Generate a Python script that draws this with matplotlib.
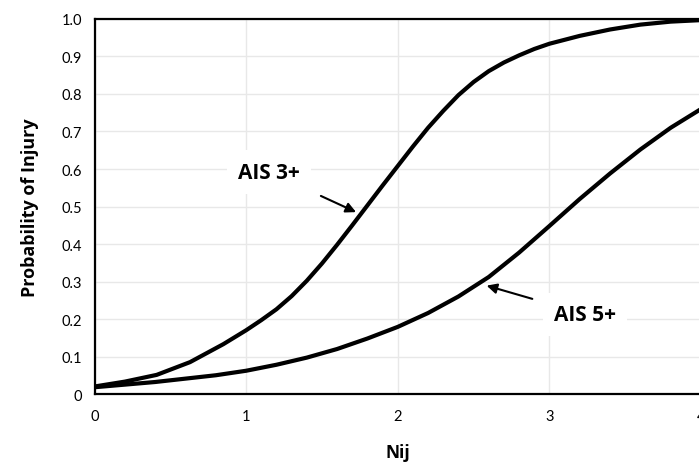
import numpy as np
import matplotlib
matplotlib.use('Agg')
import matplotlib.pyplot as plt

# values
nij_3 = [0.0, 0.2, 0.41, 0.63, 0.85, 1.0, 1.1, 1.2, 1.3, 1.4, 1.5, 1.6, 1.7, 1.8, 1.9, 2.0,
         2.1, 2.2, 2.3, 2.4, 2.5, 2.6, 2.7, 2.8, 2.9, 3.0, 3.2, 3.4, 3.6, 3.8, 4.0]
p_ais3 = [0.02, 0.033, 0.051, 0.085, 0.133, 0.17, 0.197, 0.226, 0.261, 0.302, 0.348, 0.398,
          0.45, 0.503, 0.556, 0.608, 0.66, 0.71, 0.755, 0.797, 0.832, 0.861, 0.884, 0.903,
          0.92, 0.934, 0.955, 0.972, 0.985, 0.993, 0.997]
nij_5 = [0.0, 0.2, 0.4, 0.6, 0.8, 1.0, 1.2, 1.4, 1.6, 1.8, 2.0, 2.2, 2.4, 2.6, 2.8, 3.0,
         3.2, 3.4, 3.6, 3.8, 4.0]
p_ais5 = [0.018, 0.025, 0.032, 0.041, 0.05, 0.062, 0.078, 0.097, 0.12, 0.148, 0.179, 0.216,
          0.26, 0.312, 0.377, 0.448, 0.52, 0.588, 0.652, 0.71, 0.76]

xticks = [0, 1, 2, 3, 4]
yticks = [0, 0.1, 0.2, 0.3, 0.4, 0.5, 0.6, 0.7, 0.8, 0.9, 1.0]
ylabels = ['0', '0.1', '0.2', '0.3', '0.4', '0.5', '0.6', '0.7', '0.8', '0.9', '1.0']

plt.rcParams['font.family'] = ['Lato', 'DejaVu Sans']
bold_font = ['Open Sans', 'DejaVu Sans']

fig = plt.figure(figsize=(6.99, 4.64), dpi=100)
ax = fig.add_axes([0.1352, 0.1487, 0.8677, 0.8082])

ax.plot(nij_3, p_ais3, color='black', linewidth=3, solid_joinstyle='round', zorder=3)
ax.plot(nij_5, p_ais5, color='black', linewidth=3, solid_joinstyle='round', zorder=3)

ax.set_xlim(0, 4)
ax.set_ylim(0, 1.0)
ax.set_xticks(xticks)
ax.set_yticks(yticks)
ax.set_yticklabels(ylabels)
ax.tick_params(length=0, labelsize=10.5, pad=9)
ax.tick_params(axis='x', pad=11)
ax.grid(True, color='#e8e8e8', linewidth=1)
ax.set_axisbelow(True)
for s in ax.spines.values():
    s.set_linewidth(1.6)

ax.set_xlabel('Nij', fontsize=12.5, fontweight='bold', family=bold_font, labelpad=14)
ax.set_ylabel('Probability of Injury', fontsize=13, fontweight='bold', family=bold_font,
              labelpad=16)

box = dict(facecolor='white', edgecolor='none', pad=8)
ax.annotate('AIS 3+', xy=(1.725, 0.485), xytext=(1.15, 0.592),
            fontsize=15, fontweight='bold', family=bold_font, ha='center', va='center',
            bbox=box,
            arrowprops=dict(arrowstyle='-|>', color='black', lw=1.5,
                            shrinkA=8, shrinkB=0, mutation_scale=15), zorder=4)
ax.annotate('AIS 5+', xy=(2.586, 0.289), xytext=(3.235, 0.213),
            fontsize=15, fontweight='bold', family=bold_font, ha='center', va='center',
            bbox=box,
            arrowprops=dict(arrowstyle='-|>', color='black', lw=1.5,
                            shrinkA=8, shrinkB=0, mutation_scale=15), zorder=4)

fig.savefig('out.png', dpi=100)
